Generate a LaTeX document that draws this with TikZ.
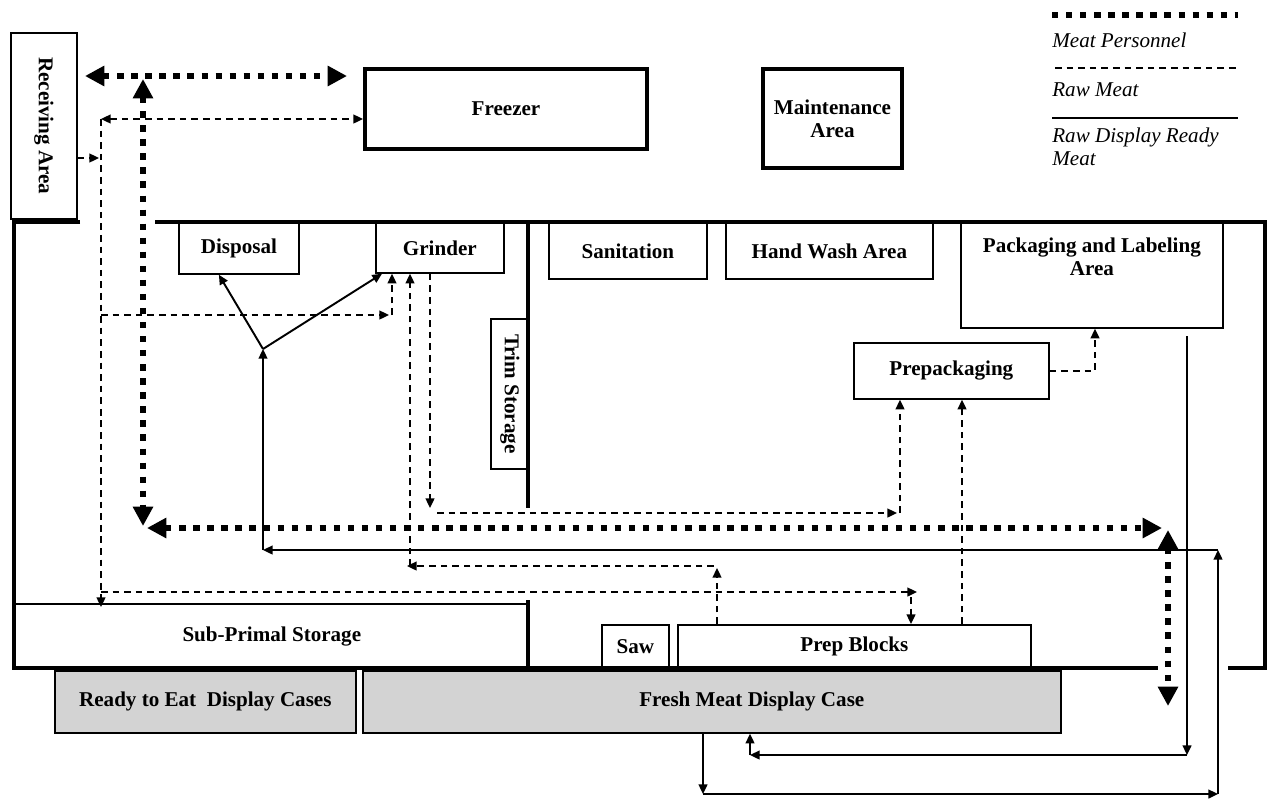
\documentclass[tikz,border=0pt]{standalone}
\usepackage{fontspec}
\setmainfont{Liberation Serif}
\usetikzlibrary{arrows.meta}
\definecolor{caseGray}{HTML}{D3D3D3}

\begin{document}
\begin{tikzpicture}[x=0.02cm,y=-0.02cm,
  room/.style={draw,line width=1pt,inner sep=1pt,anchor=north west,align=center,
    font=\bfseries\fontsize{12}{13}\selectfont},
  heavy/.style={room,line width=2.3pt},
  case/.style={room,fill=caseGray},
  lbl/.style={font=\bfseries\fontsize{12}{13}\selectfont,align=center},
  key/.style={font=\itshape\fontsize{12}{13}\selectfont,align=left,inner sep=0pt},
  wall/.style={line width=2.4pt},
  meat/.style={line width=3.6pt,dash pattern=on 3.6pt off 4.4pt,>={Triangle[length=11pt,width=11pt]}},
  raw/.style={line width=1.1pt,dash pattern=on 3.8pt off 2.8pt,>={Triangle[length=5.5pt,width=5pt]}},
  ready/.style={line width=1.1pt,>={Triangle[length=5.5pt,width=5pt]}}]
\useasboundingbox (0,0) rectangle (1268,798);
% rooms and areas
\node[room,minimum width=1.32cm,minimum height=3.72cm] (rec) at (10,32) {\rotatebox{-90}{Receiving Area}};
\node[heavy,minimum width=5.64cm,minimum height=1.6cm] (frz) at (363,67) {Freezer};
\node[heavy,minimum width=2.78cm,minimum height=1.98cm] (mnt) at (761,67) {Maintenance\\Area};
\node[room,minimum width=2.4cm,minimum height=1.02cm] (dsp) at (178,222) {Disposal};
\node[room,minimum width=2.56cm,minimum height=1cm] (grd) at (375,222) {Grinder};
\node[room,minimum width=0.76cm,minimum height=3cm] (trim) at (490,318) {\rotatebox{-90}{Trim Storage}};
\node[room,minimum width=3.16cm,minimum height=1.12cm] (san) at (548,222) {Sanitation};
\node[room,minimum width=4.14cm,minimum height=1.12cm] (hwa) at (725,222) {Hand Wash Area};
\node[room,minimum width=5.24cm,minimum height=2.1cm,
  label={[lbl,anchor=north,yshift=-5.5pt]north:{Packaging and Labeling\\Area}}] (pkg) at (960,222) {};
\node[room,minimum width=3.9cm,minimum height=1.12cm] (ppk) at (853,342) {Prepackaging};
\node[room,minimum width=10.28cm,minimum height=1.3cm] (sub) at (14,603) {Sub-Primal Storage};
\node[room,minimum width=1.34cm,minimum height=0.88cm] (saw) at (601,624) {Saw};
\node[room,minimum width=7.06cm,minimum height=0.88cm] (pbl) at (677,624) {Prep Blocks};
\node[case,minimum width=6.02cm,minimum height=1.24cm] (rte) at (54,670) {Ready to Eat\ \ Display Cases};
\node[case,minimum width=13.96cm,minimum height=1.24cm,
  label={[lbl,xshift=0.8cm]center:Fresh Meat Display Case}] (fmd) at (362,670) {};
% walls
\draw[wall] (80,222) -- (14,222) -- (14,668) -- (1158,668);
\draw[wall] (155,222) -- (1265,222) -- (1265,668) -- (1228,668);
\draw[wall] (528,222) -- (528,508) (528,600) -- (528,668);
% meat personnel
\coordinate (p1) at (85,76); \coordinate (p2) at (347,76);
\coordinate (p3) at (143,79); \coordinate (p4) at (143,526);
\coordinate (p5) at (147,528); \coordinate (p6) at (1162,528);
\coordinate (p7) at (1168,530); \coordinate (p8) at (1168,706);
\draw[meat,<->] (p1) -- (p2); \draw[meat,<->] (p3) -- (p4);
\draw[meat,<->] (p5) -- (p6); \draw[meat,<->] (p7) -- (p8);
% raw meat
\coordinate (r0) at (101,119); \coordinate (r1) at (99,158); \coordinate (r2) at (101,607);
\coordinate (r3) at (101,315); \coordinate (r4) at (389,315); \coordinate (r5) at (392,315);
\coordinate (r6) at (430,508); \coordinate (r7) at (437,513); \coordinate (r8) at (897,513);
\coordinate (r9) at (900,513); \coordinate (r10) at (962,600); \coordinate (r11) at (1095,300);
\coordinate (r12) at (717,568); \coordinate (r13) at (714,566); \coordinate (r14) at (407,566);
\coordinate (r15) at (410,566); \coordinate (r16) at (101,592); \coordinate (r17) at (917,592);
\coordinate (r18) at (911,597);
\draw[raw,->] (rec.east |- r1) -- (r1);
\draw[raw,<->] (r0) -- (frz.west |- r0); \draw[raw,->] (r0) -- (r2);
\draw[raw,->] (r3) -- (r4); \draw[raw,->] (r5) -- (r5 |- grd.south);
\draw[raw,->] (r6 |- grd.south) -- (r6); \draw[raw,->] (r7) -- (r8);
\draw[raw,->] (r9) -- (r9 |- ppk.south);
\draw[raw,->] (pbl.north -| r10) -- (r10 |- ppk.south);
\draw[raw,->] (ppk.east) -| (r11 |- pkg.south);
\draw[raw,->] (pbl.north -| r12) -- (r12); \draw[raw,->] (r13) -- (r14);
\draw[raw,->] (r15) -- (r15 |- grd.south);
\draw[raw,->] (r16) -- (r17); \draw[raw,->] (r18) -- (r18 |- pbl.north);
% raw display ready meat
\coordinate (j) at (263,349); \coordinate (s1) at (263,550); \coordinate (s2) at (1218,550);
\coordinate (s3) at (1218,794); \coordinate (s4) at (703,794); \coordinate (s5) at (1187,336);
\coordinate (s6) at (1187,755); \coordinate (s7) at (750,755);
\draw[ready,->] (j) -- ([xshift=-0.4cm]dsp.south);
\draw[ready,->] (j) -- ([xshift=0.14cm]grd.south west);
\draw[ready,->] (s1) -- (j); \draw[ready,->] (s2) -- (s1);
\draw[ready,->] (s3) -- (s2); \draw[ready,->] (s4) -- (s3);
\draw[ready,->] (fmd.south -| s4) -- (s4);
\draw[ready,->] (s5) -- (s6); \draw[ready,->] (s6) -- (s7);
\draw[ready,->] (s7) -- (s7 |- fmd.south);
% legend
\draw[meat,line width=3.2pt] (1052,15) -- (1238,15);
\node[key,anchor=west] (kmp) at (1052,40) {Meat Personnel};
\draw[raw] (1055,68) -- (1240,68);
\node[key,anchor=west] (kraw) at (1052,90) {Raw Meat};
\draw[ready] (1052,118) -- (1238,118);
\node[key,anchor=north west] (krdy) at (1052,128) {Raw Display Ready\\Meat};
\end{tikzpicture}
\end{document}
